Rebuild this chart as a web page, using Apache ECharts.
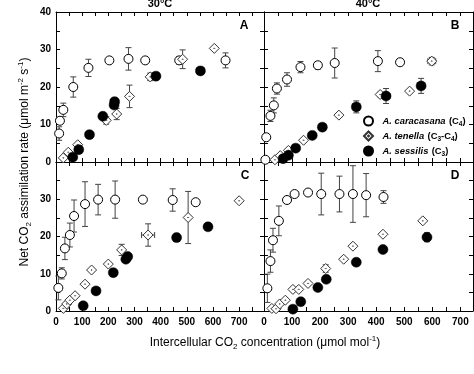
<!DOCTYPE html>
<html>
<head>
<meta charset="utf-8">
<script src="https://cdn.jsdelivr.net/npm/echarts@6/dist/echarts.min.js"></script>
<style>html,body{margin:0;padding:0;background:#fff}#c{width:474px;height:374px}</style>
</head>
<body>
<div id="c"></div>
<script>
// Data rows: [Ci, A, yErr, xErr]
const speciesNames = ['caracasana', 'tenella', 'sessilis'];
const panelTitles = ['30°C', '40°C'];
const panelLetters = ['A', 'B', 'C', 'D'];
const xTickValues = [0, 100, 200, 300, 400, 500, 600, 700];
const yTickValues = [0, 10, 20, 30, 40];

// Panel A (30°C)
const caracasanaA = [[12,7.6,1.8,0],[15,11,0,0],[28,13.9,1.8,0],[66,20,2.7,0],[124,25.1,2.3,0],[204,27.1,0,0],[277,27.5,3,0],[341,27.1,0,0],[471,27.1,1,0],[648,27.1,2,0]];
const tenellaA = [[28,1.1,0,0],[47,2.6,0,0],[83,4.6,0,0],[192,11.1,1,0],[232,12.8,1.5,0],[281,17.5,3,0],[360,22.7,1,0],[484,27.4,2.5,0],[605,30.3,0,0]];
const sessilisA = [[64,1.3,0,0],[87,3.3,0.5,0],[128,7.3,0.6,12],[179,12.2,0.8,0],[222,15.2,0,0],[224,16.1,0.8,0],[382,22.9,1,12],[552,24.3,1,15]];
// Panel B (40°C)
const caracasanaB = [[5,0.6,0,0],[8,6.6,0,0],[23,12.3,1.5,0],[35,15.1,2,0],[46,19.6,1.5,0],[82,22,1.8,0],[130,25.3,1.5,0],[192,25.8,1,0],[252,26.4,4,0],[406,26.9,2.8,6],[485,26.6,0,0]];
const tenellaB = [[39,0.6,0,0],[58,1.7,0,0],[87,3.1,0,0],[141,5.8,0,0],[267,12.5,0,0],[414,18,0.6,0],[519,18.9,0,0],[598,26.9,1,14]];
const sessilisB = [[68,0.9,0,0],[87,1.8,0,0],[113,3.7,0,0],[172,7.1,0.8,0],[208,9.3,0.9,6],[329,14.7,1.6,0],[435,17.6,2,14],[560,20.3,2,0]];
// Panel C (30°C)
const caracasanaC = [[9,6.2,3.2,0],[22,10.1,1.5,0],[34,16.8,3,0],[53,20.4,3.2,0],[69,25.5,4.3,0],[111,28.7,6,0],[161,29.9,4.1,0],[226,29.9,5,0],[332,29.9,0,0],[446,29.8,3,0],[534,29.2,0,0]];
const tenellaC = [[28,0.7,0,0],[41,1.9,0,0],[53,2.9,0,0],[73,4.1,0,0],[111,7.2,0,0],[136,11,0,0],[200,12.6,0,0],[251,16.4,1.5,0],[352,20.4,3,25],[505,25.1,7,0],[700,29.6,0,0]];
const sessilisC = [[104,1.4,0,0],[153,5.4,0,0],[219,10.3,0,0],[267,13.9,0,0],[274,14.6,0,0],[461,19.7,1,0],[581,22.6,1,10]];
// Panel D (40°C)
const caracasanaD = [[12,6.1,3.8,0],[23,13.4,3,0],[32,19,3.2,0],[53,24.2,4,0],[82,29.8,0,0],[109,31.4,0,0],[157,31.8,0,0],[204,31.4,5.6,0],[269,31.4,4.8,0],[317,31.4,7.6,0],[364,31.1,5.8,0],[426,30.6,1.7,0]];
const tenellaD = [[28,0.7,0,0],[43,0.6,0,0],[56,1.9,0,0],[76,2.9,0,0],[103,5.8,0,0],[124,5.8,0,0],[157,7.4,0,0],[220,11.4,1,0],[284,13.9,0,0],[317,17.4,0,0],[424,20.6,0,0],[566,24.2,0,0]];
const sessilisD = [[103,0.5,0,0],[131,2.5,0,0],[192,6.3,0,0],[222,8.5,0,0],[329,13.1,1,0],[424,16.5,0.6,0],[581,19.8,1.2,0]];

const panels = [
  [caracasanaA, tenellaA, sessilisA],
  [caracasanaB, tenellaB, sessilisB],
  [caracasanaC, tenellaC, sessilisC],
  [caracasanaD, tenellaD, sessilisD]
];

const FONT = 'Liberation Sans, Arial, sans-serif';
const gridRects = [
  {left: 56, top: 12, width: 208, height: 150},
  {left: 264, top: 12, width: 209, height: 150},
  {left: 56, top: 162, width: 208, height: 149},
  {left: 264, top: 162, width: 209, height: 149}
];
const xMax = [795, 745, 795, 745];

const xAxes = [], yAxes = [];
gridRects.forEach((g, i) => {
  const bottomRow = i >= 2, leftCol = i % 2 === 0;
  const common = {
    gridIndex: i, type: 'value', min: 0, max: xMax[i], interval: 100,
    axisLine: {show: true, onZero: false, lineStyle: {color: '#000', width: 1}},
    axisTick: {show: true, inside: true, length: 4, lineStyle: {color: '#000'}},
    minorTick: {show: true, splitNumber: 2, length: 4, lineStyle: {color: '#000'}},
    splitLine: {show: false}
  };
  xAxes.push(Object.assign({}, common, {position: 'bottom',
    axisLabel: {show: bottomRow, fontFamily: FONT, fontWeight: 'bold', fontSize: 10, color: '#000', margin: 6,
      customValues: xTickValues}}));
  xAxes.push(Object.assign({}, common, {position: 'top', axisLabel: {show: false}}));
  const ycommon = {
    gridIndex: i, type: 'value', min: 0, max: 40, interval: 10,
    axisLine: {show: true, onZero: false, lineStyle: {color: '#000', width: 1}},
    axisTick: {show: true, inside: true, length: 4, lineStyle: {color: '#000'}},
    minorTick: {show: true, splitNumber: 2, length: 4, lineStyle: {color: '#000'}},
    splitLine: {show: false}
  };
  yAxes.push(Object.assign({}, ycommon, {position: 'left',
    axisLabel: {show: leftCol, fontFamily: FONT, fontWeight: 'bold', fontSize: 10, color: '#000', margin: 5,
      customValues: bottomRow ? yTickValues.slice(0, 4) : yTickValues}}));
  yAxes.push(Object.assign({}, ycommon, {position: 'right', axisLabel: {show: false}}));
});

const symbolOf = {
  caracasana: {symbol: 'circle', size: 9, style: {color: '#fff', borderColor: '#000', borderWidth: 1}},
  tenella: {symbol: 'path://M5,0 L10,5 L5,10 L0,5 Z M5,4.5 L5.5,5 L5,5.5 L4.5,5 Z', size: 10, style: {color: '#fff', borderColor: '#333', borderWidth: 1}},
  sessilis: {symbol: 'circle', size: 10, style: {color: '#000', borderColor: '#000', borderWidth: 0.5}}
};

function errorBarRender(params, api) {
  const x = api.value(0), y = api.value(1), ey = api.value(2), ex = api.value(3);
  const children = [];
  const st = {stroke: '#444', lineWidth: 1};
  const cap = 3;
  if (ey > 0) {
    const top = api.coord([x, y + ey]), bot = api.coord([x, y - ey]);
    children.push({type: 'line', shape: {x1: top[0], y1: top[1], x2: bot[0], y2: bot[1]}, style: st});
    children.push({type: 'line', shape: {x1: top[0] - cap, y1: top[1], x2: top[0] + cap, y2: top[1]}, style: st});
    children.push({type: 'line', shape: {x1: bot[0] - cap, y1: bot[1], x2: bot[0] + cap, y2: bot[1]}, style: st});
  }
  if (ex > 0) {
    const l = api.coord([x - ex, y]), r = api.coord([x + ex, y]);
    children.push({type: 'line', shape: {x1: l[0], y1: l[1], x2: r[0], y2: r[1]}, style: st});
    children.push({type: 'line', shape: {x1: l[0], y1: l[1] - cap, x2: l[0], y2: l[1] + cap}, style: st});
    children.push({type: 'line', shape: {x1: r[0], y1: r[1] - cap, x2: r[0], y2: r[1] + cap}, style: st});
  }
  return {type: 'group', children};
}

const series = [];
panels.forEach((sets, i) => {
  sets.forEach((data, k) => {
    series.push({
      type: 'custom', xAxisIndex: 2 * i, yAxisIndex: 2 * i, renderItem: errorBarRender,
      data: data, encode: {x: 0, y: 1}, z: 2, silent: true, clip: false
    });
  });
  sets.forEach((data, k) => {
    const nm = speciesNames[k], s = symbolOf[nm];
    series.push({
      type: 'scatter', name: nm, xAxisIndex: 2 * i, yAxisIndex: 2 * i,
      data: data.map(d => [d[0], d[1]]), symbol: s.symbol, symbolSize: s.size,
      itemStyle: Object.assign({opacity: 1}, s.style), z: 3 + k, silent: true
    });
  });
});

const legendLabels = {
  caracasana: '{i|A. caracasana} {n|(C}{s|4}{n|)}',
  tenella: '{i|A. tenella} {n|(C}{s|3}{n|-C}{s|4}{n|)}',
  sessilis: '{i|A. sessilis} {n|(C}{s|3}{n|)}'
};

const graphics = [];
panelTitles.forEach((t, j) => {
  graphics.push({type: 'text', x: j === 0 ? 160 : 368, y: 4,
    style: {text: t, font: 'bold 11px ' + FONT, fill: '#000', align: 'center', verticalAlign: 'middle'}});
});
const letterPos = [[244, 26], [455, 26], [245, 176], [455, 176]];
panelLetters.forEach((L, i) => {
  graphics.push({type: 'text', x: letterPos[i][0], y: letterPos[i][1],
    style: {text: L, font: 'bold 12px ' + FONT, fill: '#000', align: 'center', verticalAlign: 'middle'}});
});
const titleRich = {
  n: {fontSize: 12, fontFamily: FONT, lineHeight: 16, verticalAlign: 'middle', fill: '#000'},
  s: {fontSize: 8, fontFamily: FONT, verticalAlign: 'bottom', fill: '#000'},
  p: {fontSize: 8, fontFamily: FONT, verticalAlign: 'top', fill: '#000'}
};
graphics.push({type: 'text', x: 265, y: 343,
  style: {text: '{n|Intercellular CO}{s|2}{n| concentration (μmol mol}{p|-1}{n|)}', rich: titleRich, align: 'center', verticalAlign: 'middle'}});
graphics.push({type: 'text', x: 25, y: 162, rotation: Math.PI / 2,
  style: {text: '{n|Net CO}{s|2}{n| assimilation rate (μmol m}{p|-2}{n| s}{p|-1}{n|)}', rich: titleRich, align: 'center', verticalAlign: 'middle'}});

const chart = echarts.init(document.getElementById('c'), null, {renderer: 'canvas'});
chart.setOption({
  animation: false,
  backgroundColor: '#fff',
  grid: gridRects.map(g => Object.assign({containLabel: false}, g)),
  xAxis: xAxes,
  yAxis: yAxes,
  legend: {
    data: speciesNames, orient: 'vertical', left: 363, top: 115, padding: 0,
    itemWidth: 18, itemHeight: 9, itemGap: 2.5, selectedMode: false,
    formatter: n => legendLabels[n],
    textStyle: {fontFamily: FONT, color: '#000', rich: {
      i: {fontStyle: 'italic', fontWeight: 'bold', fontSize: 9.4, fontFamily: FONT, lineHeight: 13, verticalAlign: 'middle'},
      n: {fontWeight: 'bold', fontSize: 9.4, fontFamily: FONT, lineHeight: 13, verticalAlign: 'middle'},
      s: {fontWeight: 'bold', fontSize: 6.5, fontFamily: FONT, verticalAlign: 'bottom'}
    }}
  },
  graphic: graphics,
  series: series
});
</script>
</body>
</html>
